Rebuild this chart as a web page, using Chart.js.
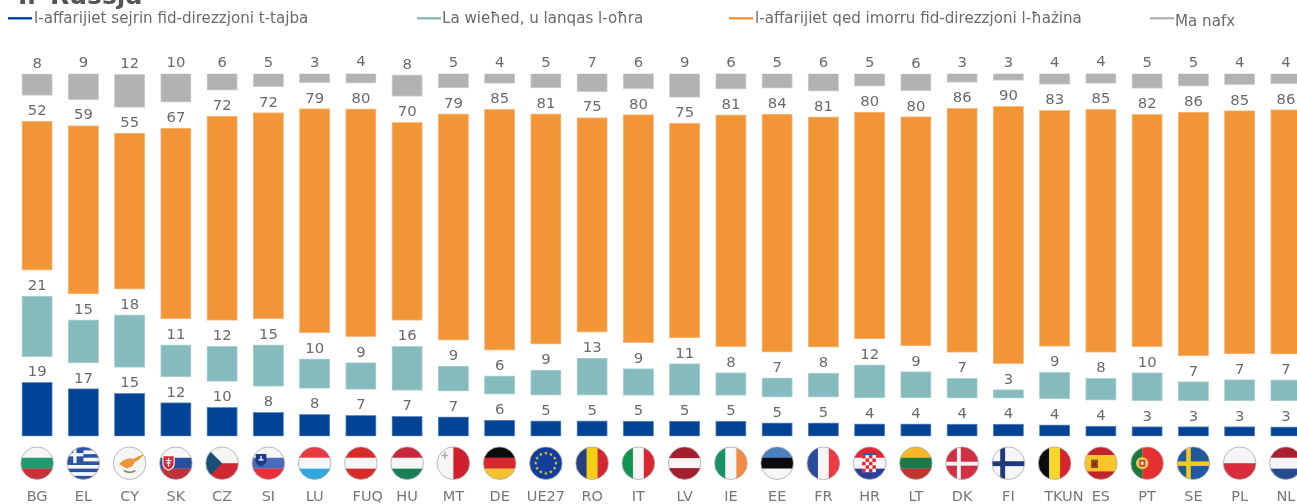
<!DOCTYPE html>
<html>
<head>
<meta charset="utf-8">
<style>
html,body{margin:0;padding:0;background:#fff;overflow:hidden;width:1297px;height:504px}
canvas{display:block}
</style>
<script src="https://cdn.jsdelivr.net/npm/chart.js@4/dist/chart.umd.min.js"></script>
</head>
<body>
<canvas id="c" width="1320" height="504" style="width:1320px;height:504px"></canvas>
<script>
const categories = ["BG","EL","CY","SK","CZ","SI","LU","FUQ","HU","MT","DE","UE27","RO","IT","LV","IE","EE","FR","HR","LT","DK","FI","TKUN","ES","PT","SE","PL","NL"];
const better = [18.9,16.7,15.1,11.8,10.2,8.4,7.7,7.4,7,6.8,5.7,5.4,5.4,5.3,5.3,5.3,4.7,4.7,4.4,4.4,4.3,4.3,4,3.6,3.4,3.4,3.4,3.3];
const same = [21.2,15.1,18.4,11.2,12.3,14.6,10.4,9.4,15.5,8.8,6.4,8.8,13,9.4,11.1,8,6.7,8.4,11.6,9.2,7,3,9.4,7.7,9.9,6.7,7.4,7.4];
const worse = [52.3,59.1,54.7,67,71.7,72.4,78.7,79.9,69.5,79.4,84.5,80.8,75.3,80,75.3,81.3,83.5,80.8,79.6,80.4,85.6,90.3,82.8,85.3,81.5,85.5,85.3,85.8];
const dontKnow = [7.6,9.2,11.6,10.1,6,4.8,3.4,3.9,7.6,5.3,3.5,5.1,6.5,5.6,8.5,5.8,5.3,6.2,4.6,6,3.4,2.7,4.1,3.9,5.4,4.6,4.2,3.7];
const seriesNames = ["l-affarijiet sejrin fid-direzzjoni t-tajba","La wieħed, u lanqas l-oħra","l-affarijiet qed imorru fid-direzzjoni l-ħażina","Ma nafx"];
const chartTitle = "Ir-Russja";

const colors = ["#014495","#85BBBC","#F29537","#B2B2B2"];
const edges  = ["#6a90c0","#aed2d3","#f7bd85","#cfcfcf"];
const GAP = 9.07;
const TEXT = "#6a6a6a";
const FONT = '"DejaVu Sans"';

/* build floating [from,to] segments stacked bottom-up with a fixed gap */
const base = categories.map(()=>0);
const seriesValues = [better, same, worse, dontKnow];
const datasets = seriesValues.map((vals,s)=>({
  label: seriesNames[s],
  backgroundColor: colors[s],
  borderColor: edges[s],
  borderWidth: 1,
  borderSkipped: false,
  grouped: false,
  barThickness: 30.5,
  values: vals,
  data: vals.map((v,i)=>{const a=base[i]; base[i]=a+v+GAP; return [a,a+v];})
}));

/* ---------- flags ---------- */
function hb(c,cols,f){const n=cols.length;f=f||cols.map((_,i)=>1/n);let y=-1;cols.forEach((k,i)=>{c.fillStyle=k;c.fillRect(-1,y,2,f[i]*2+.01);y+=f[i]*2;});}
function vb(c,cols,f){const n=cols.length;f=f||cols.map((_,i)=>1/n);let x=-1;cols.forEach((k,i)=>{c.fillStyle=k;c.fillRect(x,-1,f[i]*2+.01,2);x+=f[i]*2;});}
function poly(c,col,pts){c.fillStyle=col;c.beginPath();pts.forEach((p,i)=>i?c.lineTo(p[0],p[1]):c.moveTo(p[0],p[1]));c.closePath();c.fill();}
function shield(c,x,y,w,h,col){c.fillStyle=col;c.beginPath();c.moveTo(x-w,y-h);c.lineTo(x+w,y-h);c.lineTo(x+w,y+h*.2);c.quadraticCurveTo(x+w*.8,y+h*.8,x,y+h);c.quadraticCurveTo(x-w*.8,y+h*.8,x-w,y+h*.2);c.closePath();c.fill();}
function cross(c,col,cx,cy,t){c.fillStyle=col;c.fillRect(cx-t/2,-1,t,2);c.fillRect(-1,cy-t/2,2,t);}
const W="#f6f6f6";
const flagDraw = {
  BG:c=>hb(c,[W,"#1f9a6e","#c8313a"]),
  EL:c=>{hb(c,Array.from({length:9},(_,i)=>i%2?W:"#2a52a0"));c.fillStyle="#2a52a0";c.fillRect(-1,-1,1,1);cross2(c);},
  CY:c=>{hb(c,[W]);poly(c,"#e9973a",[[-.65,.05],[-.35,-.2],[-.05,-.3],[.25,-.28],[.55,-.42],[.9,-.55],[.55,-.2],[.3,-.05],[.15,.2],[-.15,.33],[-.4,.2]]);c.strokeStyle="#8d9458";c.lineWidth=.1;c.beginPath();c.moveTo(-.35,.45);c.quadraticCurveTo(0,.68,.35,.45);c.stroke();},
  SK:c=>{hb(c,[W,"#2a4fa0","#c0313a"]);shield(c,-.45,-.02,.38,.48,W);shield(c,-.45,-.02,.31,.41,"#d12c38");c.fillStyle=W;c.fillRect(-.49,-.33,.08,.55);c.fillRect(-.62,-.2,.34,.07);c.fillRect(-.58,-.05,.26,.07);},
  CZ:c=>{hb(c,[W,"#cf2832"],[.5,.5]);poly(c,"#174f78",[[-1,-1],[0,0],[-1,1]]);},
  SI:c=>{hb(c,[W,"#4a6cb8","#e8303a"]);shield(c,-.45,-.18,.33,.38,"#1f3a8a");c.fillStyle=W;c.fillRect(-.6,-.25,.3,.09);c.fillRect(-.49,-.45,.08,.2);},
  LU:c=>hb(c,["#e83a42",W,"#2fa8dc"]),
  FUQ:c=>hb(c,["#d62b2b",W,"#d62b2b"]),
  HU:c=>hb(c,["#c8283c",W,"#1a7f55"]),
  MT:c=>{vb(c,[W,"#cf2030"],[.5,.5]);c.fillStyle="#aaa";c.fillRect(-.73,-.52,.4,.09);c.fillRect(-.57,-.7,.09,.45);},
  DE:c=>hb(c,["#0b0b0b","#d8262e","#f6c12c"]),
  UE27:c=>{hb(c,["#123f9c"]);c.fillStyle="#f7d11e";for(let i=0;i<12;i++){const a=i*Math.PI/6;star(c,Math.cos(a)*.62,Math.sin(a)*.62,.12);}},
  RO:c=>vb(c,["#26407f","#f3d010","#d22630"]),
  IT:c=>vb(c,["#11944c",W,"#d7262e"]),
  LV:c=>hb(c,["#a31f2d",W,"#a31f2d"],[.35,.3,.35]),
  IE:c=>vb(c,["#1a9068",W,"#f68a42"]),
  EE:c=>hb(c,["#4a80c0","#0b0b0b",W]),
  FR:c=>vb(c,["#2a4a9c",W,"#ec3a42"]),
  HR:c=>{hb(c,["#e52530",W,"#2a3f98"]);c.fillStyle=W;c.fillRect(-.46,-.5,.84,1.05);c.fillStyle="#e52530";for(let r=0;r<5;r++)for(let q=0;q<4;q++)if((r+q)%2==0)c.fillRect(-.46+q*.21,-.5+r*.21,.21,.21);c.fillStyle="#2a5fa8";c.fillRect(-.46,-.62,.84,.12);},
  LT:c=>hb(c,["#f6b825","#1a7a4a","#be3530"]),
  DK:c=>{hb(c,["#d22e44"]);cross(c,W,-.2,.03,.24);},
  FI:c=>{hb(c,[W]);cross(c,"#1f3a7a",-.35,.03,.3);},
  TKUN:c=>vb(c,["#0b0b0b","#f8d828","#d8262e"]),
  ES:c=>{hb(c,["#c4232c","#f9c52a","#c4232c"],[.25,.5,.25]);c.fillStyle="#9a4426";c.fillRect(-.6,-.22,.42,.52);c.fillStyle="#6f3520";c.fillRect(-.5,-.05,.22,.22);},
  PT:c=>{vb(c,["#1a7a3e","#e73030"],[.35,.65]);c.fillStyle="#e8c84a";c.beginPath();c.arc(-.3,0,.38,0,7);c.fill();c.fillStyle="#c83232";c.fillRect(-.47,-.2,.34,.4);c.fillStyle=W;c.fillRect(-.38,-.1,.16,.2);},
  SE:c=>{hb(c,["#1f5a9c"]);cross(c,"#f6c91f",-.3,.03,.28);},
  PL:c=>hb(c,[W,"#d62c3c"],[.5,.5]),
  NL:c=>hb(c,["#a81f2e",W,"#274a8e"])
};
function cross2(c){c.fillStyle=W;c.fillRect(-.62,-1,.2,1);c.fillRect(-1,-.62,1,.2);}
function star(c,x,y,r){c.beginPath();for(let i=0;i<10;i++){const a=-Math.PI/2+i*Math.PI/5,q=i%2?r*.42:r;c.lineTo(x+Math.cos(a)*q,y+Math.sin(a)*q);}c.closePath();c.fill();}

const flagsPlugin = {
  id:"flags",
  afterDraw(chart){
    const c=chart.ctx, xs=chart.scales.x, R=16.3, cy=463.2;
    categories.forEach((k,i)=>{
      const x=xs.getPixelForValue(i);
      c.save();
      c.beginPath();c.arc(x,cy,R,0,Math.PI*2);c.clip();
      c.translate(x,cy);c.scale(R,R);
      flagDraw[k](c);
      c.restore();
      c.beginPath();c.arc(x,cy,R,0,Math.PI*2);c.strokeStyle="#a8a8a8";c.lineWidth=.8;c.stroke();
    });
  }
};

const labelsPlugin = {
  id:"valueLabels",
  afterDatasetsDraw(chart){
    const c=chart.ctx;
    c.save();
    c.font='14.8px '+FONT;c.fillStyle=TEXT;c.textAlign="center";c.textBaseline="alphabetic";
    chart.data.datasets.forEach((ds,s)=>{
      chart.getDatasetMeta(s).data.forEach((el,i)=>{
        c.fillText(String(Math.round(ds.values[i])),el.x,el.y-6);
      });
    });
    c.restore();
  }
};

const legendPlugin = {
  id:"manualLegend",
  afterDraw(chart){
    const c=chart.ctx;
    c.save();
    c.font='bold 25px '+FONT;c.fillStyle="#555";c.textAlign="left";c.textBaseline="alphabetic";
    c.fillText(chartTitle,18,4);
    const spots=[[8,32,34,19],[417,441,442,19],[729,753,755,19],[1150,1174,1175,22]];
    c.font='15.1px '+FONT;c.textBaseline="middle";
    spots.forEach((p,i)=>{
      c.strokeStyle=colors[i];c.lineWidth=2.4;
      c.beginPath();c.moveTo(p[0],18.3);c.lineTo(p[1],18.3);c.stroke();
      c.fillStyle=TEXT;c.fillText(seriesNames[i],p[2],p[3]);
    });
    c.restore();
  }
};

new Chart(document.getElementById("c"),{
  type:"bar",
  data:{labels:categories,datasets},
  options:{
    responsive:false,
    animation:false,
    layout:{padding:{left:14,right:11,top:73.7,bottom:0}},
    plugins:{legend:{display:false},tooltip:{enabled:false},title:{display:false}},
    scales:{
      x:{
        afterFit(s){s.paddingLeft=0;s.paddingRight=0;s.height=67.7;},
        grid:{display:false},border:{display:false},
        ticks:{
          autoSkip:false,maxRotation:0,minRotation:0,padding:46,color:"#777",
          font:{family:"DejaVu Sans",size:14.5,lineHeight:1},
          callback(v){const k=categories[v];return k==="FUQ"?"   "+k:k==="TKUN"?"    "+k:k;}
        }
      },
      y:{display:false,min:0,max:127.2}
    }
  },
  plugins:[labelsPlugin,flagsPlugin,legendPlugin]
});
</script>
</body>
</html>
